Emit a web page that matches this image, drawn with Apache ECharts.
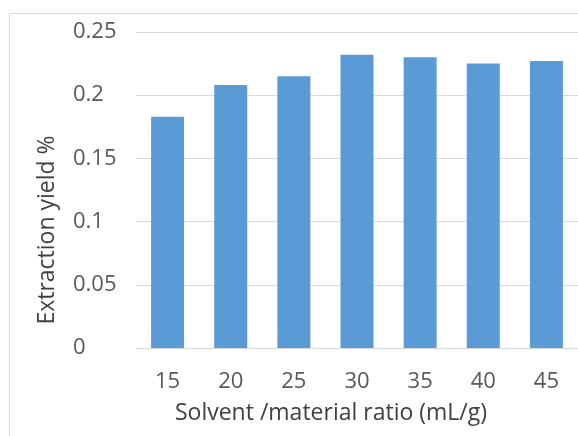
<!DOCTYPE html>
<html>
<head>
<meta charset="utf-8">
<script src="https://cdn.jsdelivr.net/npm/echarts@6/dist/echarts.min.js"></script>
<style>
html,body{margin:0;padding:0;background:#fff;}
#c{width:578px;height:436px;}
</style>
</head>
<body>
<div id="c"></div>
<script>
var categories = ['15', '20', '25', '30', '35', '40', '45'];
var yieldValues = [0.183, 0.208, 0.215, 0.232, 0.230, 0.225, 0.227];
var yTickLabels = ['0', '0.05', '0.1', '0.15', '0.2', '0.25'];
var xTitle = 'Solvent /material ratio (mL/g)';
var yTitle = 'Extraction yield %';

var chart = echarts.init(document.getElementById('c'), null, {renderer: 'canvas'});
var FONT = '"Open Sans", sans-serif';
chart.setOption({
  animation: false,
  backgroundColor: '#ffffff',
  grid: {left: 136, top: 32, width: 452, height: 316, containLabel: false},
  xAxis: {
    type: 'category',
    data: categories,
    axisLine: {show: true, lineStyle: {color: '#d9d9d9', width: 1}},
    axisTick: {show: false},
    axisLabel: {color: '#595959', fontSize: 22, fontFamily: FONT, margin: 23}
  },
  yAxis: {
    type: 'value',
    min: 0, max: 0.25, interval: 0.05,
    axisLine: {show: false},
    axisTick: {show: false},
    splitLine: {lineStyle: {color: '#d9d9d9', width: 1}},
    axisLabel: {
      color: '#595959', fontSize: 22, fontFamily: FONT, align: 'left', margin: 63,
      formatter: function (v) {
        var i = Math.round(v / 0.05);
        return yTickLabels[i];
      }
    }
  },
  series: [{
    type: 'bar',
    data: yieldValues,
    barWidth: 33,
    itemStyle: {color: '#5b9bd5'}
  }],
  graphic: [
    {type: 'rect', silent: true, z: -1,
     shape: {x: 9.5, y: 13.5, width: 700, height: 600},
     style: {fill: null, stroke: '#d9d9d9', lineWidth: 1}},
    {type: 'text', x: 331, y: 413,
     style: {text: xTitle, fill: '#404040', font: '23px ' + FONT, textAlign: 'center', textVerticalAlign: 'middle'}},
    {type: 'text', x: 47, y: 230, rotation: Math.PI / 2,
     style: {text: yTitle, fill: '#404040', font: '23px ' + FONT, textAlign: 'center', textVerticalAlign: 'middle'}}
  ]
});
</script>
</body>
</html>
